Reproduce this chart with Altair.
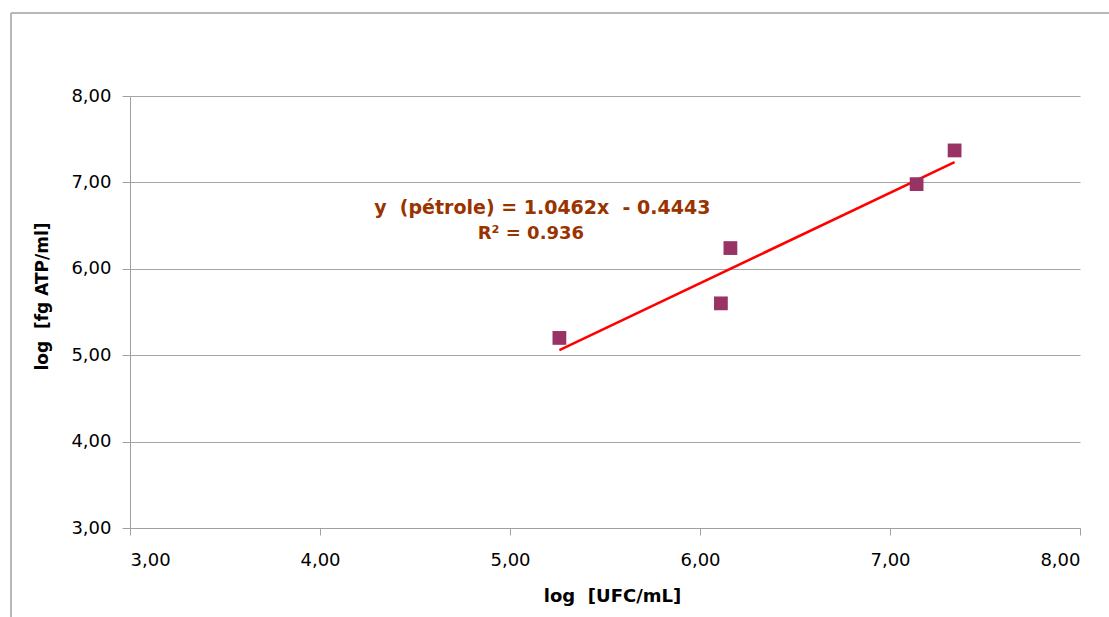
import altair as alt
import pandas as pd

NB = "\u00a0"

# data
ufc = [5.26, 6.11, 6.16, 7.14, 7.34]
atp = [5.20, 5.60, 6.24, 6.98, 7.37]
slope = 1.0462
intercept = -0.4443
trend_x = [min(ufc), max(ufc)]
axis_ticks = [3, 4, 5, 6, 7, 8]
eq_lines = ["y" + NB + NB + "(pétrole) = 1.0462x" + NB + NB + "- 0.4443", "R² = 0.936"]
eq_x = [5.17, 5.11]
eq_y = [6.70, 6.40]

pts = pd.DataFrame({"x": ufc, "y": atp})
trend = pd.DataFrame({"x": trend_x, "y": [slope * v + intercept for v in trend_x]})
eq1 = pd.DataFrame({"x": eq_x[:1], "y": eq_y[:1], "t": eq_lines[:1]})
eq2 = pd.DataFrame({"x": eq_x[1:], "y": eq_y[1:], "t": eq_lines[1:]})
one = pd.DataFrame({"a": [0]})

lab = "replace(format(datum.value, '.2f'), '.', ',')"

xs = alt.Scale(domain=[3, 8], nice=False, zero=False)
ys = alt.Scale(domain=[3, 8], nice=False, zero=False)

xaxis = alt.Axis(
    values=axis_ticks, labelExpr=lab, grid=False,
    domainColor="#a0a0a0", tickColor="#a0a0a0", tickSize=7,
    labelFont="DejaVu Sans", labelFontSize=18, labelColor="#000000", labelPadding=16,
    title="log" + NB + NB + "[UFC/mL]", titleFont="DejaVu Sans", titleFontSize=18, titleFontWeight="bold",
    titleColor="#000000", titleX=482, titleY=68, titleBaseline="middle", titleAnchor="middle",
)
yaxis = alt.Axis(
    values=axis_ticks, labelExpr=lab, grid=True, gridColor="#a6a6a6",
    domainColor="#a0a0a0", tickColor="#a0a0a0", tickSize=8,
    labelFont="DejaVu Sans", labelFontSize=18, labelColor="#000000", labelPadding=11,
    title="log" + NB + NB + "[fg ATP/ml]", titleFont="DejaVu Sans", titleFontSize=17, titleFontWeight="bold",
    titleColor="#000000", titleX=-88, titleY=200, titleBaseline="middle", titleAnchor="middle",
)

base_pts = alt.Chart(pts).mark_square(size=190, color="#993366", opacity=1).encode(
    x=alt.X("x:Q", scale=xs, axis=xaxis),
    y=alt.Y("y:Q", scale=ys, axis=yaxis),
)

line = alt.Chart(trend).mark_line(color="#ff0000", strokeWidth=2.5).encode(
    x=alt.X("x:Q", scale=xs), y=alt.Y("y:Q", scale=ys)
)

text1 = alt.Chart(eq1).mark_text(
    font="DejaVu Sans", fontSize=19, fontWeight="bold", color="#993300", align="center", baseline="middle"
).encode(x=alt.X("x:Q", scale=xs), y=alt.Y("y:Q", scale=ys), text="t:N")
text2 = alt.Chart(eq2).mark_text(
    font="DejaVu Sans", fontSize=18, fontWeight="bold", color="#993300", align="center", baseline="middle"
).encode(x=alt.X("x:Q", scale=xs), y=alt.Y("y:Q", scale=ys), text="t:N")

frame_left = alt.Chart(one).mark_rule(color="#a0a0a0", strokeWidth=1.5).encode(
    x=alt.value(-119), y=alt.value(-83), y2=alt.value(530)
)
frame_top = alt.Chart(one).mark_rule(color="#a0a0a0", strokeWidth=1.5).encode(
    x=alt.value(-119), x2=alt.value(990), y=alt.value(-83)
)

chart = alt.layer(frame_left, frame_top, line, base_pts, text1, text2).properties(
    width=950, height=432,
    autosize=alt.AutoSizeParams(type="none"),
    padding={"left": 130, "top": 96, "right": 29, "bottom": 89},
    background="#ffffff",
).configure_view(stroke=None)

chart.save("out.html", embed_options={"renderer": "svg", "actions": False})
